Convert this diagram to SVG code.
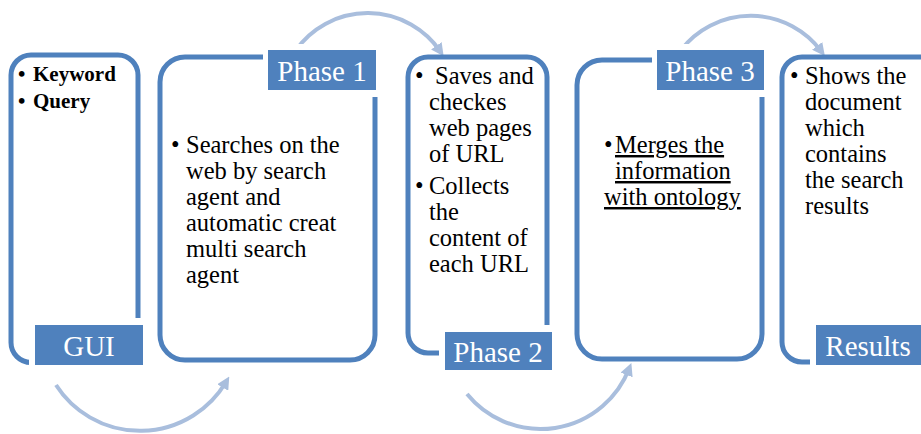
<svg xmlns="http://www.w3.org/2000/svg" width="921" height="434" viewBox="0 0 921 434">
<style>
.box{fill:none;stroke:#4F81BD;stroke-width:5}
.gap{fill:#fff}
.lab{fill:#4F81BD}
.lt{font-family:"Liberation Serif",serif;font-size:29px;fill:#fff}
.bt{font-family:"Liberation Serif",serif;font-size:24.5px;fill:#000}
.kw{font-family:"Liberation Serif",serif;font-size:21px;font-weight:bold;fill:#000}
.arc{fill:none;stroke:#A9BEDD;stroke-width:4;marker-end:url(#ah)}
</style>
<defs>
<marker id="ah" viewBox="0 0 10 10" refX="5" refY="5" markerWidth="3.2" markerHeight="3.2" orient="auto" markerUnits="strokeWidth">
<path d="M0,0 L10,5 L0,10 z" fill="#A9BEDD"/>
</marker>
</defs>
<rect width="921" height="434" fill="#fff"/>
<g id="connectors">
<path class="arc" d="M56,385 A100 100 0 0 0 226,382"/>
<path class="arc" d="M296,50 A88 88 0 0 1 440,51"/>
<path class="arc" d="M467,394 A95 95 0 0 0 629,369"/>
<path class="arc" d="M681,50 A88 88 0 0 1 821,51"/>
</g>
<g id="gui">
<rect class="box" x="11" y="55" width="127" height="307.5" rx="20"/>
<rect class="gap" x="29" y="318" width="120" height="52"/>
<rect class="lab" x="35" y="325" width="108" height="40"/>
<text class="lt" x="89" y="356" text-anchor="middle">GUI</text>
<text class="kw"><tspan x="18" y="81">•</tspan><tspan x="33" y="81">Keyword</tspan><tspan x="18" y="108">•</tspan><tspan x="33" y="108">Query</tspan></text>
</g>
<g id="phase1">
<rect class="box" x="160" y="57" width="215" height="303" rx="25"/>
<rect class="gap" x="263" y="44" width="120" height="53"/>
<rect class="lab" x="268" y="50" width="108" height="40"/>
<text class="lt" x="322" y="81" text-anchor="middle">Phase 1</text>
<text class="bt"><tspan x="171" y="153">•</tspan><tspan x="186" y="153">Searches on the</tspan><tspan x="186" y="179">web by search</tspan><tspan x="186" y="205">agent and</tspan><tspan x="186" y="231">automatic creat</tspan><tspan x="186" y="257">multi  search</tspan><tspan x="186" y="283">agent</tspan></text>
</g>
<g id="phase2">
<rect class="box" x="408" y="57" width="139" height="296" rx="20"/>
<rect class="gap" x="439" y="325" width="120" height="50"/>
<rect class="lab" x="445" y="332" width="107" height="38"/>
<text class="lt" x="498" y="362" text-anchor="middle">Phase 2</text>
<text class="bt"><tspan x="415" y="84">•</tspan><tspan x="435" y="84">Saves and</tspan><tspan x="429" y="110">checkes</tspan><tspan x="429" y="136">web pages</tspan><tspan x="429" y="162">of URL</tspan><tspan x="415" y="194">•</tspan><tspan x="429" y="194">Collects</tspan><tspan x="429" y="220">the</tspan><tspan x="429" y="246">content of</tspan><tspan x="429" y="272">each URL</tspan></text>
</g>
<g id="phase3">
<rect class="box" x="577" y="60" width="185" height="299" rx="25"/>
<rect class="gap" x="652" y="44" width="120" height="53"/>
<rect class="lab" x="657" y="50" width="107" height="40"/>
<text class="lt" x="710" y="81" text-anchor="middle">Phase 3</text>
<text class="bt"><tspan x="604" y="153">•</tspan><tspan x="615" y="153" text-decoration="underline">Merges the</tspan><tspan x="615" y="179" text-decoration="underline">information</tspan><tspan x="604" y="205" text-decoration="underline">with ontology</tspan></text>
</g>
<g id="results">
<rect class="box" x="782" y="57" width="160" height="305" rx="20"/>
<rect class="gap" x="810" y="318" width="120" height="52"/>
<rect class="lab" x="816" y="325" width="110" height="40"/>
<text class="lt" x="868" y="356" text-anchor="middle">Results</text>
<text class="bt"><tspan x="790" y="84">•</tspan><tspan x="805" y="84">Shows the</tspan><tspan x="805" y="110">document</tspan><tspan x="805" y="136">which</tspan><tspan x="805" y="162">contains</tspan><tspan x="805" y="188">the search</tspan><tspan x="805" y="214">results</tspan></text>
</g>
</svg>
